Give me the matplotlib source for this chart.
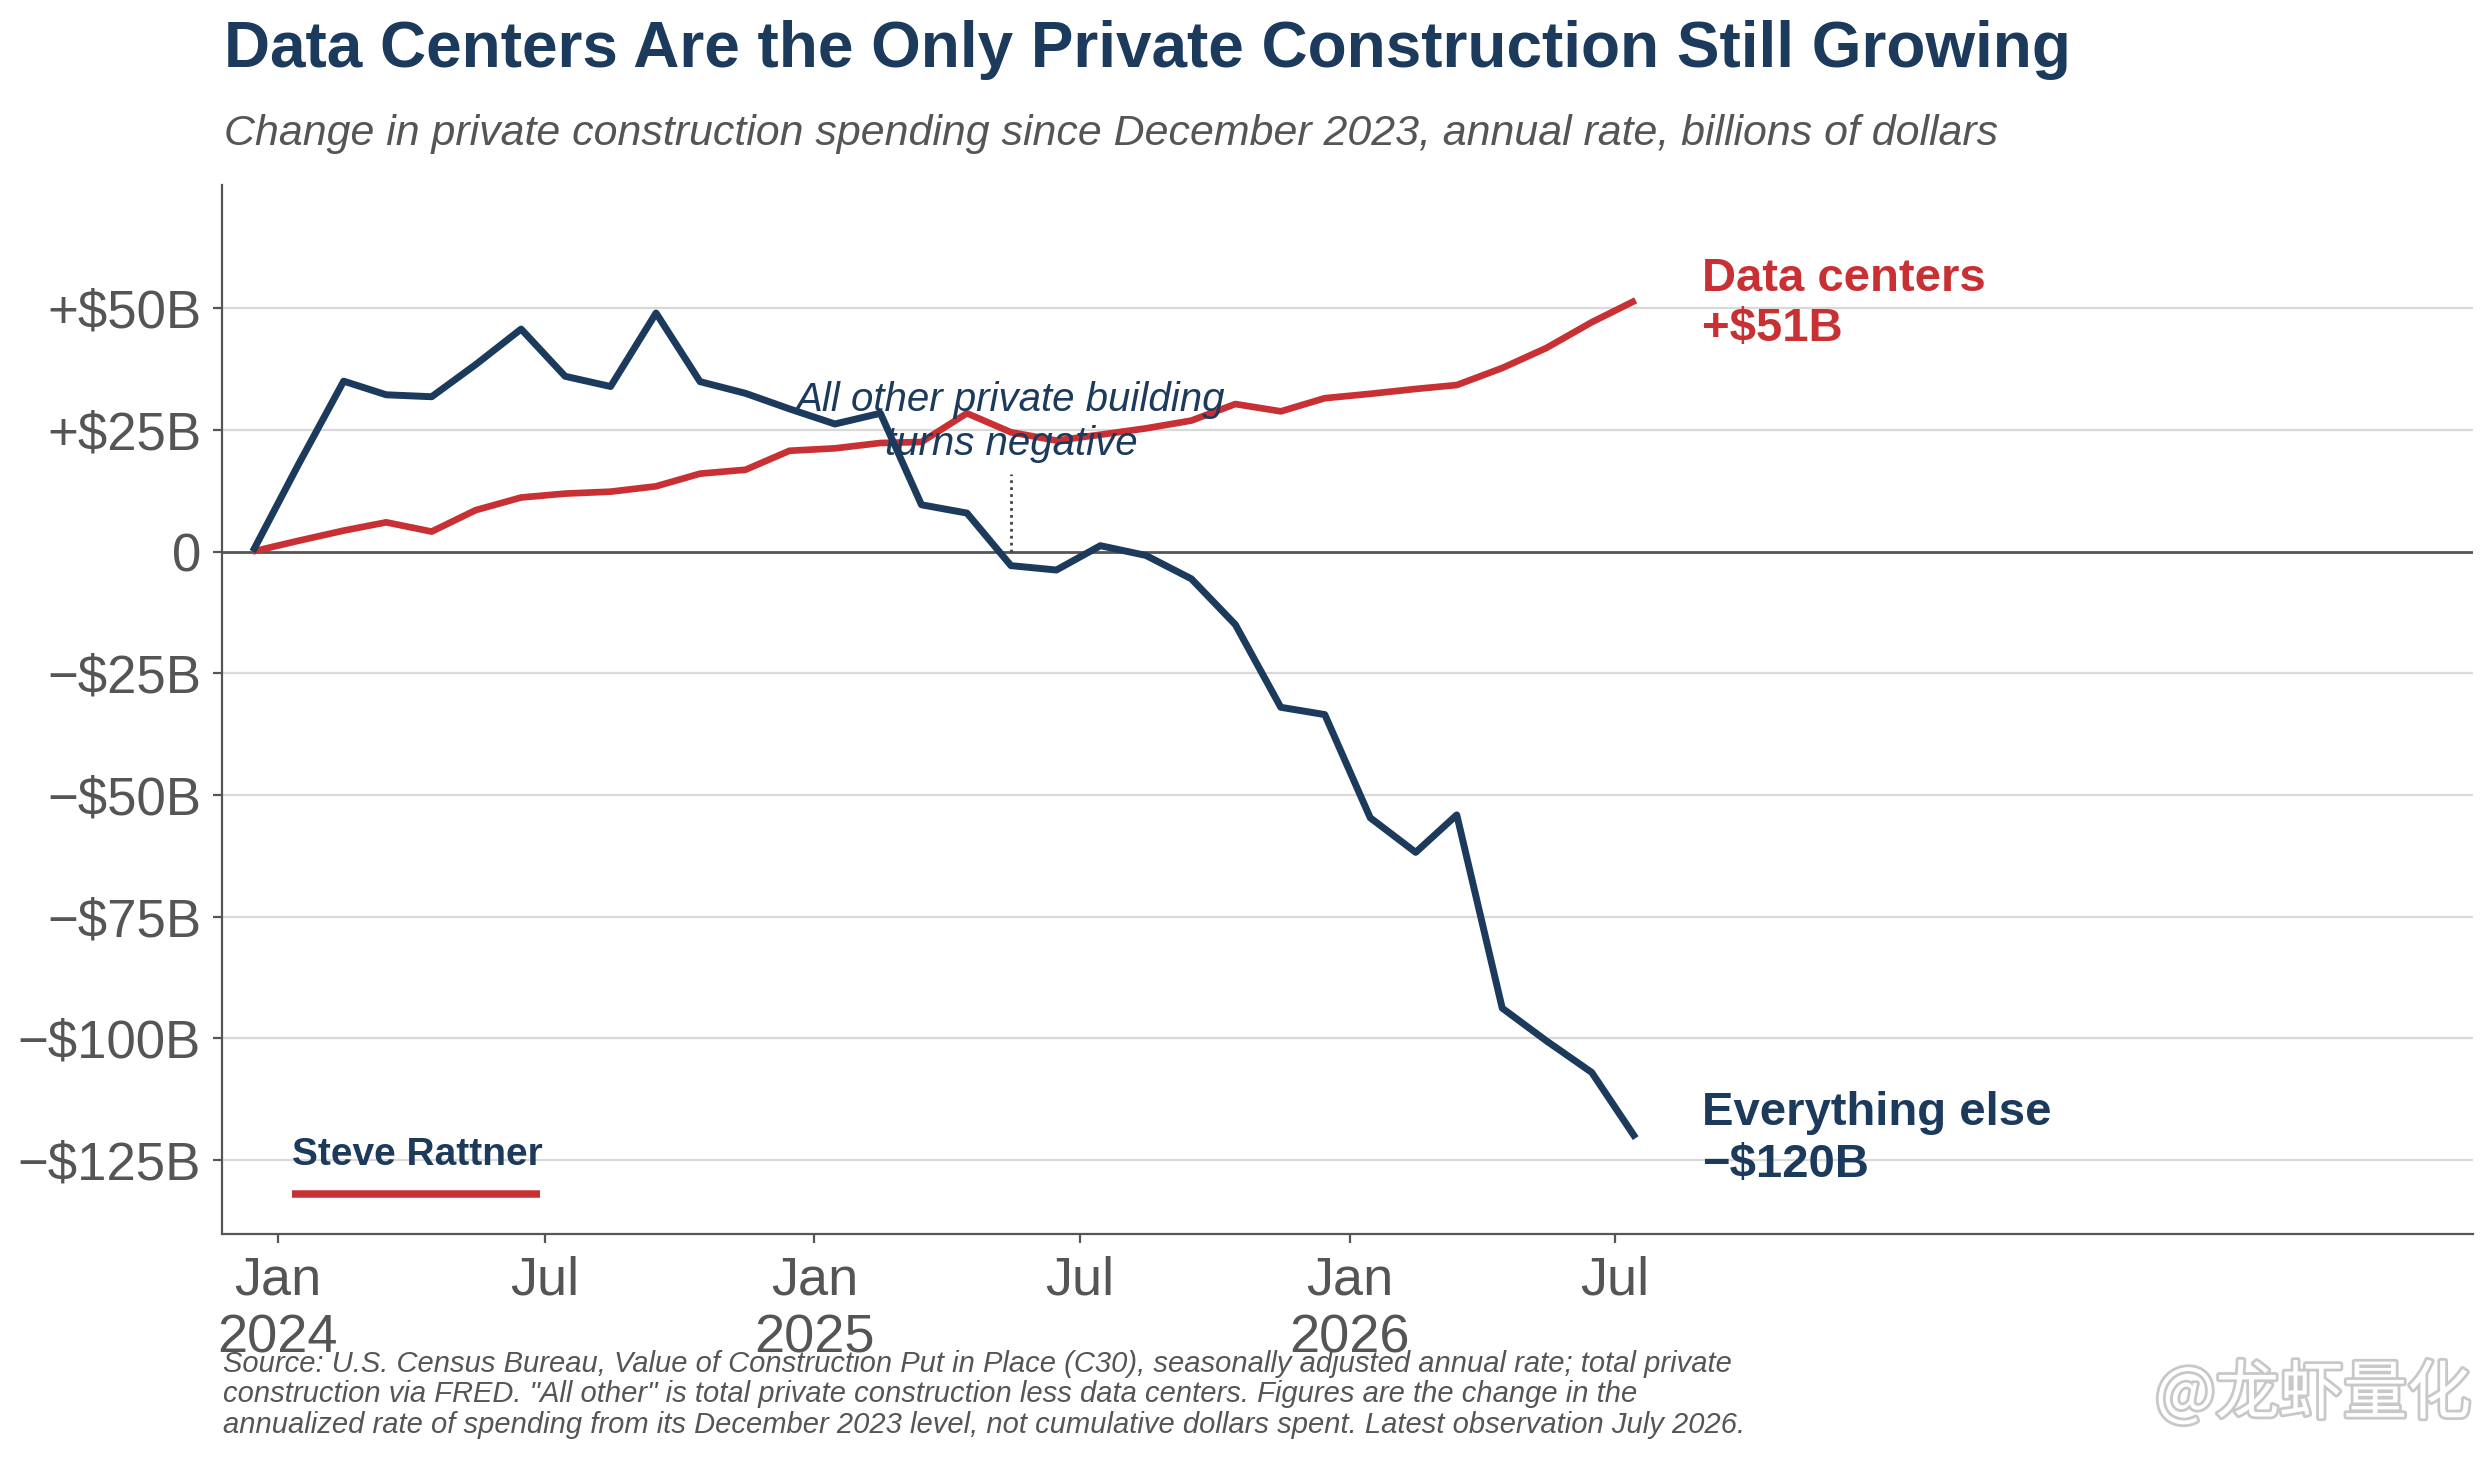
import matplotlib
matplotlib.use("Agg")
import matplotlib.pyplot as plt
import matplotlib.patheffects as pe
import pandas as pd

NAVY = "#1b3a5c"
RED = "#c93034"
GRAY = "#555555"

# monthly observations, Dec 2023 .. Jul 2026 (plotted mid-month)
months = pd.date_range("2023-12-01", periods=32, freq="MS") + pd.Timedelta(days=14)

# change vs Dec 2023, $B annual rate
all_other = [0, 17.8, 35.0, 32.2, 31.8, 38.4, 45.7, 36.0, 33.9, 49.0, 34.9, 32.5,
             29.3, 26.2, 28.4, 9.6, 7.9, -2.9, -3.8, 1.2, -0.8, -5.6, -15.0, -32.0,
             -33.5, -54.7, -61.8, -54.1, -93.8, -100.5, -107.0, -120.5]
data_centers = [0, 2.2, 4.3, 6.0, 4.1, 8.5, 11.1, 11.9, 12.3, 13.4, 16.0, 16.8,
                20.7, 21.2, 22.3, 22.5, 28.4, 24.5, 22.8, 24.0, 25.3, 26.9, 30.3, 28.8,
                31.5, 32.4, 33.4, 34.2, 37.7, 41.8, 47.1, 51.6]

y_ticks = [-125, -100, -75, -50, -25, 0, 25, 50]
y_labels = ["\u2212$125B", "\u2212$100B", "\u2212$75B", "\u2212$50B", "\u2212$25B",
            "0", "+$25B", "+$50B"]
x_ticks = pd.to_datetime(["2024-01-01", "2024-07-01", "2025-01-01",
                          "2025-07-01", "2026-01-01", "2026-07-01"])
x_labels = ["Jan\n2024", "Jul", "Jan\n2025", "Jul", "Jan\n2026", "Jul"]

title = "Data Centers Are the Only Private Construction Still Growing"
subtitle = "Change in private construction spending since December 2023, annual rate, billions of dollars"
source = ("Source: U.S. Census Bureau, Value of Construction Put in Place (C30), seasonally adjusted annual rate; total private\n"
          "construction via FRED. \"All other\" is total private construction less data centers. Figures are the change in the\n"
          "annualized rate of spending from its December 2023 level, not cumulative dollars spent. Latest observation July 2026.")

plt.rcParams["font.family"] = ["Liberation Sans", "DejaVu Sans"]

fig = plt.figure(figsize=(12.455, 7.3), dpi=200)
ax = fig.add_axes([0.0891, 0.1548, 0.9037, 0.7185])

for y in y_ticks:
    if y != 0:
        ax.axhline(y, color="#d9d9d9", lw=0.8, zorder=0)
ax.axhline(0, color=GRAY, lw=1.0, zorder=1)

ax.plot(months, data_centers, color=RED, lw=2.4, zorder=3, solid_capstyle="butt")
ax.plot(months, all_other, color=NAVY, lw=2.5, zorder=4, solid_capstyle="butt")

ax.set_xlim(pd.Timestamp("2023-11-24"), pd.Timestamp("2028-02-06"))
ax.set_ylim(-140.2, 75.3)

ax.set_yticks(y_ticks)
ax.set_yticklabels(y_labels)
ax.set_xticks(x_ticks)
ax.set_xticklabels(x_labels)
ax.tick_params(axis="y", labelsize=19, colors=GRAY, length=3.2, width=0.8, pad=4.3)
ax.tick_params(axis="x", labelsize=19.5, colors=GRAY, length=3.2, width=0.8, pad=4.5)

for side in ("top", "right"):
    ax.spines[side].set_visible(False)
for side in ("left", "bottom"):
    ax.spines[side].set_color(GRAY)
    ax.spines[side].set_linewidth(0.8)

# annotation where all-other turns negative
turn = months[17]
ax.plot([turn, turn], [0, 16], color="#444444", lw=1.0, ls=(0, (1, 1.5)), zorder=2)
ax.text(turn, 28.8, "All other private building", ha="center", va="baseline",
        fontsize=14.5, style="italic", color=NAVY, zorder=5)
ax.text(turn, 19.9, "turns negative", ha="center", va="baseline",
        fontsize=14.5, style="italic", color=NAVY, zorder=5)

# end labels
lx = pd.Timestamp("2026-08-29")
ax.text(lx, 53.6, "Data centers", fontsize=17, fontweight="bold", color=RED, va="baseline")
ax.text(lx, 43.3, "+$51B", fontsize=17, fontweight="bold", color=RED, va="baseline")
ax.text(lx, -117.8, "Everything else", fontsize=17, fontweight="bold", color=NAVY, va="baseline")
ax.text(lx, -128.5, "\u2212$120B", fontsize=17, fontweight="bold", color=NAVY, va="baseline")

# signature
ax.text(0.0309, 0.0658, "Steve Rattner", transform=ax.transAxes, fontsize=14,
        fontweight="bold", color=NAVY, va="baseline", ha="left")
ax.plot([0.0309, 0.1415], [0.0377, 0.0377], transform=ax.transAxes, color=RED,
        lw=2.7, solid_capstyle="butt", clip_on=False)

fig.text(0.09, 0.954, title, fontsize=23, fontweight="bold", color=NAVY, va="baseline")
fig.text(0.09, 0.9007, subtitle, fontsize=15.45, style="italic", color=GRAY, va="baseline")
fig.text(0.0895, 0.0185, source, fontsize=10.5, style="italic", color=GRAY, va="baseline",
         linespacing=1.12)

wm = fig.text(0.992, 0.032, "@龙虾量化", fontsize=23, color="white", ha="right",
              va="baseline", family=["Noto Sans CJK SC", "DejaVu Sans"])
wm.set_path_effects([pe.withStroke(linewidth=2, foreground="#c8c8c8")])

fig.savefig("out.png", dpi=200, facecolor="white")
